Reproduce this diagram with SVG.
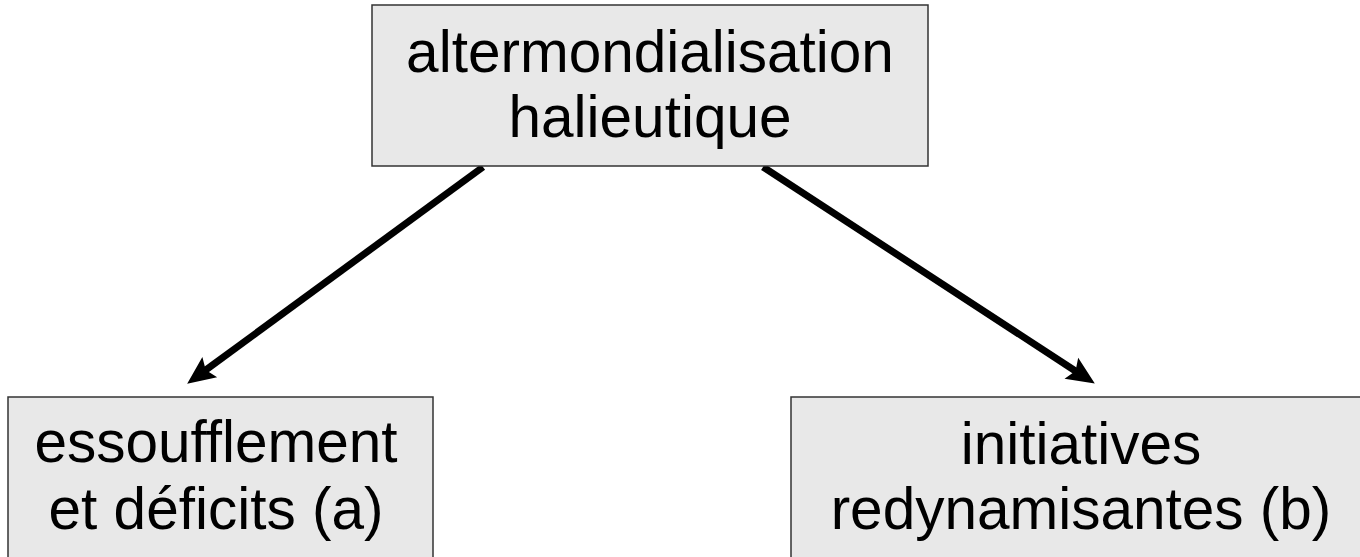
<svg xmlns="http://www.w3.org/2000/svg" width="1360" height="557" viewBox="0 0 1360 557">
<style>
.box{fill:#e8e8e8;stroke:#333333;stroke-width:1.5}
.t{font-family:"Liberation Sans",Arial,sans-serif;font-size:58.5px;fill:#000;text-anchor:middle}
.edge{stroke:#000;stroke-width:7;fill:none}
</style>
<defs>
<marker id="ah" markerUnits="userSpaceOnUse" orient="auto" refX="0" refY="0" markerWidth="60" markerHeight="60" viewBox="-30 -30 60 60" overflow="visible">
<path d="M19,0 L-9,-12.5 L-4,0 L-9,12.5 Z" fill="#000"/>
</marker>
</defs>
<rect width="1360" height="557" fill="#ffffff"/>
<g id="connectors">
<line class="edge" x1="483" y1="167" x2="202.5" y2="372.4" marker-end="url(#ah)"/>
<line class="edge" x1="763" y1="167" x2="1078.9" y2="373.2" marker-end="url(#ah)"/>
</g>
<g id="node-top">
<rect class="box" x="372" y="5" width="556" height="161"/>
<text class="t" x="650" y="72">altermondialisation</text>
<text class="t" x="650" y="137">halieutique</text>
</g>
<g id="node-a">
<rect class="box" x="8" y="397" width="425" height="170"/>
<text class="t" x="216" y="462">essoufflement</text>
<text class="t" x="216" y="529">et déficits (a)</text>
</g>
<g id="node-b">
<rect class="box" x="791" y="397" width="580" height="170"/>
<text class="t" x="1081" y="464">initiatives</text>
<text class="t" x="1081" y="529">redynamisantes (b)</text>
</g>
</svg>
